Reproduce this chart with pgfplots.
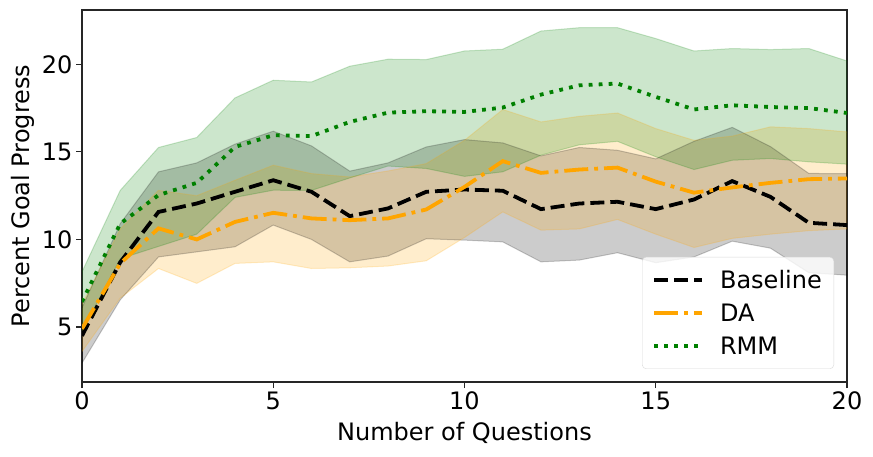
\documentclass[border=0pt]{standalone}
\usepackage{pgfplots}
\pgfplotsset{compat=1.18}
\usepackage{pgfplotstable}
\usepgfplotslibrary{fillbetween}
\usepackage{fontspec}
\setmainfont{DejaVu Sans}
\definecolor{mplorange}{HTML}{FFA500}
\definecolor{mplgreen}{HTML}{008000}

% mean, lower and upper edge of the shaded band
\pgfplotstableread{
x m lo hi
0 4.50 2.94 6.10
1 8.70 6.55 10.90
2 11.57 9.00 13.86
3 12.05 9.29 14.37
4 12.72 9.58 15.44
5 13.38 10.82 16.18
6 12.72 10.00 15.34
7 11.33 8.72 13.90
8 11.77 9.05 14.37
9 12.72 10.04 15.28
10 12.85 9.96 15.70
11 12.78 9.86 15.51
12 11.73 8.72 14.77
13 12.05 8.82 15.25
14 12.15 9.24 15.09
15 11.73 8.67 14.60
16 12.28 9.00 15.60
17 13.33 9.90 16.40
18 12.43 9.50 15.30
19 10.95 8.10 13.77
20 10.82 7.96 13.75
}\tblbase

\pgfplotstableread{
x m lo hi
0 4.90 3.60 6.30
1 8.63 6.65 10.60
2 10.63 8.34 12.80
3 10.00 7.49 12.50
4 11.00 8.63 13.38
5 11.52 8.72 14.24
6 11.20 8.34 13.76
7 11.10 8.38 13.57
8 11.20 8.48 13.91
9 11.71 8.78 14.33
10 13.00 10.11 15.66
11 14.47 11.57 17.42
12 13.80 10.53 16.71
13 13.99 10.60 17.03
14 14.10 11.14 17.22
15 13.30 10.30 16.33
16 12.67 9.54 15.66
17 12.97 10.06 15.90
18 13.23 10.30 16.43
19 13.44 10.50 16.33
20 13.48 10.60 16.14
}\tblda

\pgfplotstableread{
x m lo hi
0 6.44 4.74 8.15
1 10.90 8.90 12.80
2 12.53 9.60 15.25
3 13.23 10.30 15.82
4 15.28 12.40 18.08
5 15.95 12.81 19.09
6 15.90 12.80 18.99
7 16.71 13.51 19.89
8 17.24 14.19 20.29
9 17.32 14.05 20.27
10 17.28 13.60 20.76
11 17.53 13.86 20.86
12 18.27 14.81 21.90
13 18.80 15.40 22.09
14 18.90 15.60 22.09
15 18.14 14.72 21.47
16 17.42 13.99 20.76
17 17.66 14.52 20.90
18 17.56 14.62 20.84
19 17.50 14.43 20.90
20 17.22 14.30 20.19
}\tblrmm

\begin{document}
\begin{tikzpicture}
\begin{axis}[
  scale only axis, width=765bp, height=372bp,
  xmin=0, xmax=20, ymin=1.86, ymax=23.1,
  xtick={0,5,10,15,20}, ytick={5,10,15,20},
  tick align=outside, xtick pos=bottom, ytick pos=left,
  major tick length=6bp,
  every tick/.style={black!85, line width=1.2bp},
  axis line style={black!85, line width=1.4bp},
  font=\fontsize{24bp}{29bp}\selectfont,
  /pgf/number format/assume math mode=true,
  xlabel={Number of Questions}, ylabel={Percent Goal Progress},
  xlabel style={at={(axis description cs:0.5,-0.156)}, anchor=base},
  ylabel style={at={(axis description cs:-0.068,0.5)}, anchor=base},
  legend cell align=left,
  legend image code/.code={\draw[#1] (0bp,0bp) -- (48bp,0bp);},
  legend style={at={(rel axis cs:1,0)}, anchor=south east,
    xshift=-13bp, yshift=13bp, draw=black!15, rounded corners=4bp,
    fill=white, fill opacity=0.8, text opacity=1,
    inner xsep=10bp, inner ysep=11bp, row sep=10bp,
    /tikz/every odd column/.append style={column sep=14bp},
    font=\fontsize{24bp}{29bp}\selectfont},
]
% bands first, lines above them
\addplot[name path=bhi, draw=black, draw opacity=0.2, line width=1bp, forget plot] table[x=x,y=hi]{\tblbase};
\addplot[name path=blo, draw=black, draw opacity=0.2, line width=1bp, forget plot] table[x=x,y=lo]{\tblbase};
\addplot[fill=black, fill opacity=0.2, draw=none, forget plot] fill between[of=bhi and blo];

\addplot[name path=dhi, draw=mplorange, draw opacity=0.2, line width=1bp, forget plot] table[x=x,y=hi]{\tblda};
\addplot[name path=dlo, draw=mplorange, draw opacity=0.2, line width=1bp, forget plot] table[x=x,y=lo]{\tblda};
\addplot[fill=mplorange, fill opacity=0.2, draw=none, forget plot] fill between[of=dhi and dlo];

\addplot[name path=rhi, draw=mplgreen, draw opacity=0.2, line width=1bp, forget plot] table[x=x,y=hi]{\tblrmm};
\addplot[name path=rlo, draw=mplgreen, draw opacity=0.2, line width=1bp, forget plot] table[x=x,y=lo]{\tblrmm};
\addplot[fill=mplgreen, fill opacity=0.2, draw=none, forget plot] fill between[of=rhi and rlo];

\addplot[black, line width=3.8bp, dash pattern=on 14bp off 6bp] table[x=x,y=m]{\tblbase};
\addlegendentry{Baseline}
\addplot[mplorange, line width=3.8bp, dash pattern=on 24bp off 6bp on 3.8bp off 6bp] table[x=x,y=m]{\tblda};
\addlegendentry{DA}
\addplot[mplgreen, line width=3.8bp, dash pattern=on 3.8bp off 6.2bp] table[x=x,y=m]{\tblrmm};
\addlegendentry{RMM}
\end{axis}
\pgfresetboundingbox
\path[use as bounding box] ([xshift=-82bp,yshift=-75bp]current axis.south west) rectangle ([xshift=26bp,yshift=10bp]current axis.north east);
\end{tikzpicture}
\end{document}
